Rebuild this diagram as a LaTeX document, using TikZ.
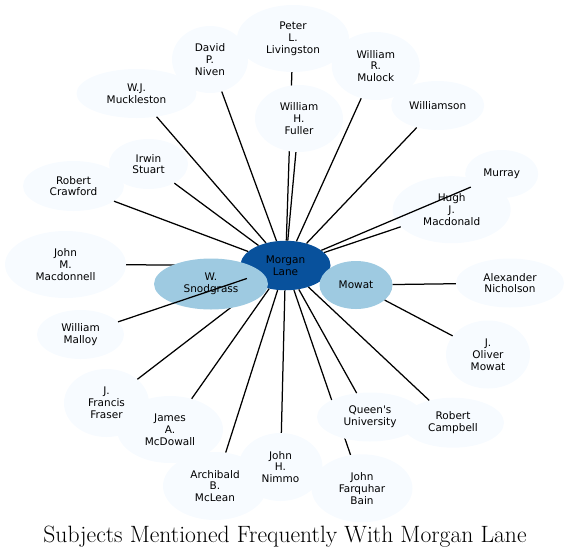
\documentclass[tikz,border=0pt]{standalone}
\usepackage{fontspec}
\usetikzlibrary{shapes.geometric}
\newfontfamily\labelfont{DejaVu Sans}
\definecolor{pale}{HTML}{F7FBFF}
\definecolor{midblue}{HTML}{9ECAE1}
\definecolor{deepblue}{HTML}{08519C}
\pgfdeclarelayer{background}
\pgfsetlayers{background,main}
\begin{document}
\begin{tikzpicture}
      [x=1pt, y=-1pt,
       main node/.style={ellipse, fill=pale, inner sep=0pt, align=center,
         font=\labelfont\fontsize{10.5}{11.8}\selectfont},
       hub node/.style={main node, fill=deepblue},
       close node/.style={main node, fill=midblue},
       link/.style={draw=black, line width=1.25pt}]
      \useasboundingbox (0,0) rectangle (570,558);

      \node[hub node, minimum width=90, minimum height=49.5] (lane) at (285.5,265.5) {Morgan\\Lane};

      \node[main node, minimum width=112, minimum height=67] (livingston) at (293,38.5) {Peter\\L.\\Livingston};
      \node[main node, minimum width=101, minimum height=68] (bain) at (362,488.3) {John\\Farquhar\\Bain};
      \node[main node, minimum width=121, minimum height=67] (macdonnell) at (65.5,264.5) {John\\M.\\Macdonnell};
      \node[main node, minimum width=85, minimum height=68] (fraser) at (106.5,403) {J.\\Francis\\Fraser};

      \node[close node, minimum width=114, minimum height=51] (snodgrass) at (211,284) {W.\\Snodgrass};
      \node[close node, minimum width=73, minimum height=48] (mowat) at (356,285) {Mowat};
      \node[main node, minimum width=88, minimum height=67] (fuller) at (299,118.5) {William\\H.\\Fuller};
      \node[main node, minimum width=106, minimum height=49] (queens) at (370,417) {Queen's\\University};

      % these run under the nodes above
      \begin{pgfonlayer}{background}
      \draw[link] (livingston) -- (lane);
      \draw[link] (bain) -- (lane);
      \draw[link] (macdonnell) -- (lane);
      \draw[link] (fraser) -- (lane);
      \draw[link] (snodgrass) -- (lane);
      \draw[link] (mowat) -- (lane);
      \end{pgfonlayer}

      \node[main node, minimum width=76, minimum height=67] (niven) at (210,59.5) {David\\P.\\Niven};
      \node[main node, minimum width=120, minimum height=49] (muckleston) at (136.5,93.5) {W.J.\\Muckleston};
      \node[main node, minimum width=79, minimum height=50] (stuart) at (148.5,164) {Irwin\\Stuart};
      \node[main node, minimum width=101, minimum height=50] (crawford) at (73.5,186) {Robert\\Crawford};
      \node[main node, minimum width=87, minimum height=49] (malloy) at (80.5,334.5) {William\\Malloy};
      \node[main node, minimum width=106, minimum height=67] (mcdowall) at (170,429.5) {James\\A.\\McDowall};
      \node[main node, minimum width=104, minimum height=68] (mclean) at (215,486) {Archibald\\B.\\McLean};
      \node[main node, minimum width=84, minimum height=68] (nimmo) at (280.5,467) {John\\H.\\Nimmo};
      \node[main node, minimum width=102, minimum height=50] (campbell) at (453,422.7) {Robert\\Campbell};
      \node[main node, minimum width=84, minimum height=68] (olivermowat) at (488,354.5) {J.\\Oliver\\Mowat};
      \node[main node, minimum width=108, minimum height=49] (nicholson) at (510,283) {Alexander\\Nicholson};
      \node[main node, minimum width=118, minimum height=67] (hugh) at (451.7,209.7) {Hugh\\J.\\Macdonald};
      \node[main node, minimum width=73, minimum height=48] (murray) at (501.7,174) {Murray};
      \node[main node, minimum width=93, minimum height=49] (williamson) at (437.7,105.5) {Williamson};
      \node[main node, minimum width=88, minimum height=68] (mulock) at (375.8,66) {William\\R.\\Mulock};

      \draw[link] (fuller) -- (lane);
      \draw[link] (niven) -- (lane);
      \draw[link] (muckleston) -- (lane);
      \draw[link] (stuart) -- (lane);
      \draw[link] (crawford) -- (lane);
      \draw[link] (malloy) -- (lane);
      \draw[link] (mcdowall) -- (lane);
      \draw[link] (mclean) -- (lane);
      \draw[link] (nimmo) -- (lane);
      \draw[link] (queens) -- (lane);
      \draw[link] (campbell) -- (lane);
      \draw[link] (olivermowat) -- (mowat);
      \draw[link] (nicholson) -- (mowat);
      \draw[link] (hugh) -- (lane);
      \draw[link] (murray) -- (lane);
      \draw[link] (williamson) -- (lane);
      \draw[link] (mulock) -- (lane);

      \node[font=\fontsize{23.6}{26}\selectfont] (title) at (285,537) {Subjects Mentioned Frequently With Morgan Lane};
   \end{tikzpicture}
\end{document}
